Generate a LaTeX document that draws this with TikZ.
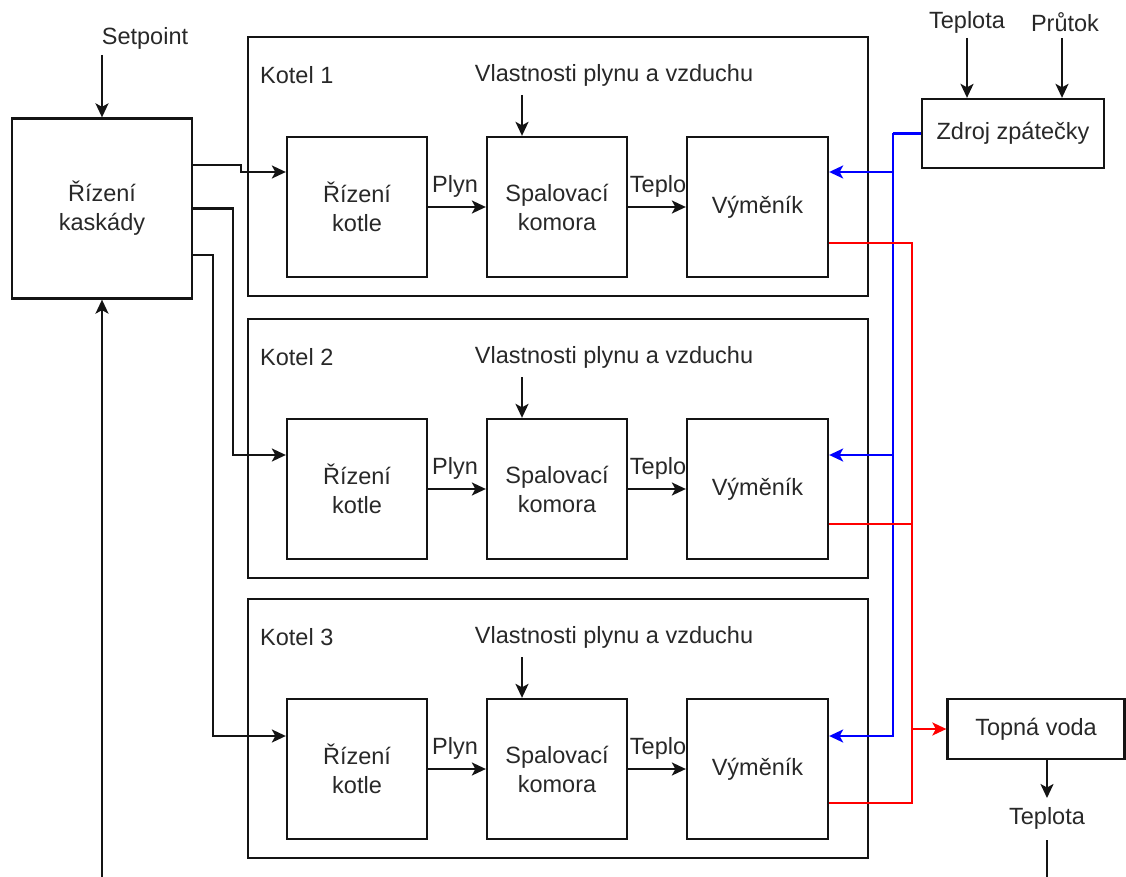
\documentclass[tikz,border=0pt]{standalone}
\usepackage{fontspec}
\setmainfont{Liberation Sans}
\usetikzlibrary{arrows.meta,calc}
\definecolor{txt}{RGB}{40,40,40}
\definecolor{ln}{RGB}{20,20,20}
\definecolor{bl}{RGB}{0,0,255}
\definecolor{rd}{RGB}{255,0,0}
\begin{document}
\begin{tikzpicture}[x=1pt,y=-1pt,
  every node/.style={font=\fontsize{23.5}{29}\selectfont, text=txt, inner sep=0pt},
  blk/.style={draw=ln, line width=2.3pt, align=center},
  outer/.style={draw=ln, line width=2pt},
  lbl/.style={align=center},
  conn/.style={draw=ln, line width=2.1pt},
  arr/.style={conn, -{Stealth[length=14pt,width=13pt,inset=3.5pt]}},
  barr/.style={draw=bl, line width=2.1pt, -{Stealth[length=14pt,width=13pt,inset=3.5pt]}},
  rarr/.style={draw=rd, line width=2.1pt, -{Stealth[length=14pt,width=13pt,inset=3.5pt]}},
  bline/.style={draw=bl, line width=2.1pt},
  rline/.style={draw=rd, line width=2.1pt}
]
\useasboundingbox (0,0) rectangle (1126,877);

% cascade controller
\node[blk, minimum width=180pt, minimum height=180pt] (kask) at (102,208.5) {Řízení\\kaskády};
\node[lbl] (setp) at (145,38) {Setpoint};
\coordinate (setps) at (102,55);
\draw[arr] (setps) -- (kask.north);
\coordinate (fb) at (102,877);
\draw[arr] (fb) -- (kask.south);

% boilers
\foreach \k/\off in {1/0,2/282,3/562}{
  \node[outer, minimum width=620pt, minimum height=259pt] (kot\k) at (558,166.5+\off) {};
  \node[anchor=west] (kl\k) at (260,75+\off) {Kotel \k};
  \node[lbl] (vl\k) at (614,75+\off) {Vlastnosti plynu a vzduchu};
  \node[blk, minimum width=140pt, minimum height=140pt] (rk\k) at (357,207+\off) {Řízení\\kotle};
  \node[blk, minimum width=140pt, minimum height=140pt] (sk\k) at (557,207+\off) {Spalovací\\komora};
  \node[blk, minimum width=141pt, minimum height=140pt] (vy\k) at (757.5,207+\off) {Výměník};
  \coordinate (vs\k) at (522,95+\off);
  \draw[arr] (vs\k) -- (vs\k |- sk\k.north);
  \draw[arr] (rk\k) -- (sk\k);
  \draw[arr] (sk\k) -- (vy\k);
  \node (pl\k) at (455,186+\off) {Plyn};
  \node (tp\k) at (658,186+\off) {Teplo};
}

% cascade outputs
\draw[arr] ([yshift=43.5pt]kask.east) -- ++(48,0) |- ([yshift=35pt]rk1.west);
\draw[arr] (kask.east) -- ++(40,0) |- ([yshift=34pt]rk2.west);
\draw[arr] ([yshift=-46.5pt]kask.east) -- ++(20,0) |- ([yshift=33pt]rk3.west);

% return source
\node[blk, minimum width=182pt, minimum height=69pt] (zdroj) at (1013,133.5) {Zdroj zpátečky};
\node[lbl] (tin) at (967,22) {Teplota};
\node[lbl] (prut) at (1065,22) {Průtok};
\coordinate (tins) at (967,38);
\coordinate (pruts) at (1062,38);
\draw[arr] (tins) -- (tins |- zdroj.north);
\draw[arr] (pruts) -- (pruts |- zdroj.north);

\coordinate (bt) at (893,133.5);
\draw[bline] (zdroj.west) -- (bt);
\draw[barr] (bt) |- ([yshift=35pt]vy1.east);
\draw[barr] (bt) |- ([yshift=34pt]vy2.east);
\draw[barr] (bt) |- ([yshift=33pt]vy3.east);

% heating water
\node[blk, minimum width=177pt, minimum height=60pt] (topna) at (1036,729) {Topná voda};
\coordinate (rx) at (912,729);
\draw[rline] ([yshift=-36pt]vy1.east) -| (rx);
\draw[rline] ([yshift=-35pt]vy2.east) -| (rx);
\draw[rline] ([yshift=-34pt]vy3.east) -| (rx);
\draw[rarr] (rx) -- (topna.west);

\node[lbl] (tout) at (1047,818) {Teplota};
\coordinate (touts) at (1047,798);
\draw[arr] (topna.south -| touts) -- (touts);
\coordinate (toutb) at (1047,840);
\coordinate (toute) at (1047,877);
\draw[conn] (toutb) -- (toute);
\end{tikzpicture}
\end{document}
